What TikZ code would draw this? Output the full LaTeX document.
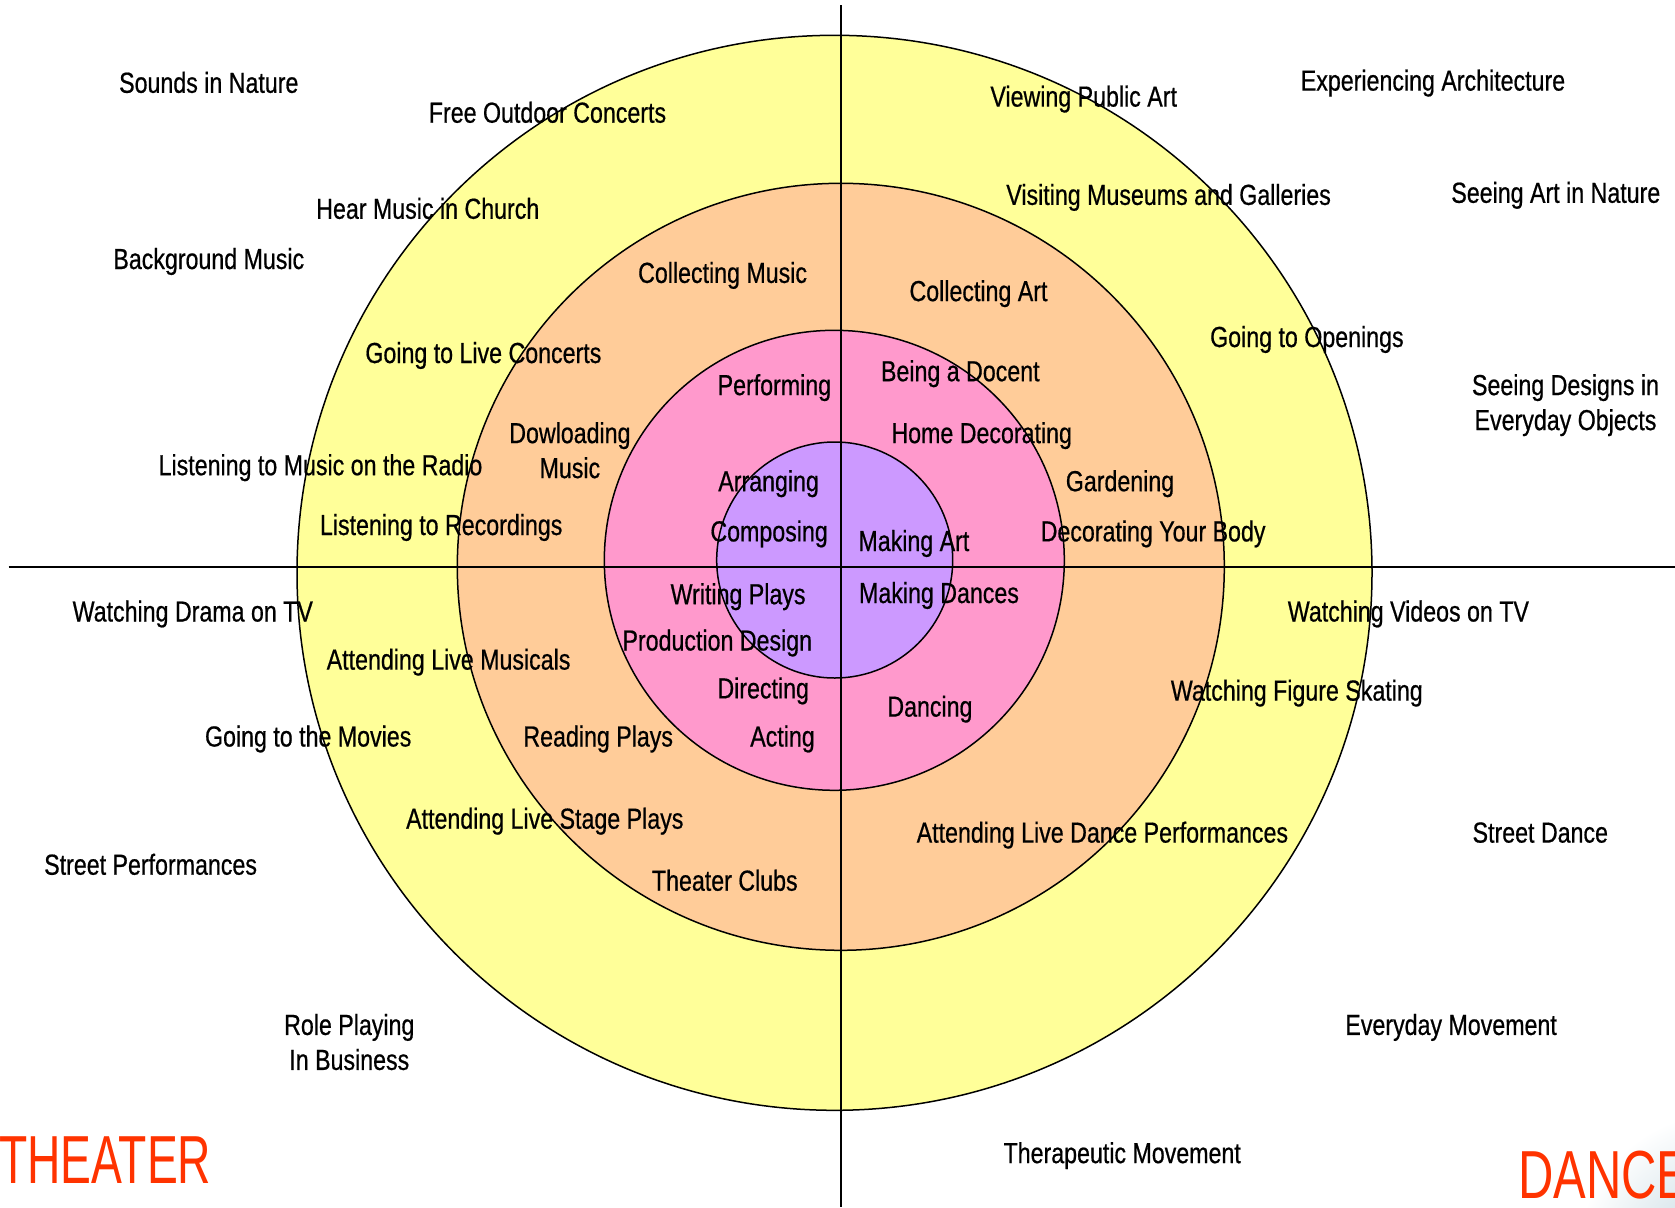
\documentclass[tikz,border=0pt]{standalone}
\usepackage{fontspec}
\setmainfont{Liberation Sans}[FakeStretch=0.8, FakeBold=0.6]
\newfontfamily\theaterfont{Liberation Sans}[FakeStretch=0.68]
\newfontfamily\dancefont{Liberation Sans}[FakeStretch=0.72]
\definecolor{ringyellow}{HTML}{FFFF99}
\definecolor{ringorange}{HTML}{FFCC99}
\definecolor{ringpink}{HTML}{FF99CC}
\definecolor{ringpurple}{HTML}{CC99FF}
\definecolor{titlered}{HTML}{FF3300}
\definecolor{glow}{HTML}{BCD3DD}
\tikzset{
  ring/.style={circle, draw=black, line width=1.5pt, inner sep=0pt, outer sep=0pt},
  axisline/.style={draw=black, line width=2pt},
  lbl/.style={anchor=base, inner sep=0pt, outer sep=0pt, font=\fontsize{29}{35}\selectfont},
  title/.style={anchor=base west, inner sep=0pt, outer sep=0pt, text=titlered}
}
\newcommand{\twolines}[2]{\begin{tabular}[t]{@{}c@{}}#1\\#2\end{tabular}}
\begin{document}
\begin{tikzpicture}[x=1pt,y=-1pt]
\useasboundingbox (0,0) rectangle (1675,1207);
% soft glow in the bottom-right corner
\shade[inner color=glow, outer color=white] (1725,1262) circle (150);
% rings
\node[ring, fill=ringyellow, minimum size=1075pt] (outer) at (834.5,572.8) {};
\node[ring, fill=ringorange, minimum size=767pt] (second) at (840.8,566.8) {};
\node[ring, fill=ringpink, minimum size=460pt] (third) at (834.3,560.3) {};
\node[ring, fill=ringpurple, minimum size=236pt] (core) at (834.7,560) {};
% axes
\coordinate (axL) at (8.5,566.7);
\coordinate (axR) at (1675,566.7);
\coordinate (axT) at (840.7,5.3);
\coordinate (axB) at (840.7,1207);
\draw[axisline] (axL) -- (axR);
\draw[axisline] (axT) -- (axB);
% music quadrant
\node[lbl] (l1) at (208.8,92.8) {Sounds in Nature};
\node[lbl] (l2) at (547.5,122.7) {Free Outdoor Concerts};
\node[lbl] (l3) at (427.8,218.8) {Hear Music in Church};
\node[lbl] (l4) at (208.8,269.0) {Background Music};
\node[lbl] (l5) at (722.6,282.9) {Collecting Music};
\node[lbl] (l6) at (483.4,363.0) {Going to Live Concerts};
\node[lbl] (l7) at (774.4,395.1) {Performing};
\node[lbl] (l8) at (569.9,443.1) {\twolines{Dowloading}{Music}};
\node[lbl] (l9) at (320.5,475.2) {Listening to Music on the Radio};
\node[lbl] (l10) at (768.6,491.2) {Arranging};
\node[lbl] (l11) at (441.2,535.0) {Listening to Recordings};
\node[lbl] (l12) at (769.1,541.4) {Composing};
% art quadrant
\node[lbl] (r1) at (1083.7,106.6) {Viewing Public Art};
\node[lbl] (r2) at (1433.0,90.6) {Experiencing Architecture};
\node[lbl] (r3) at (1168.6,204.9) {Visiting Museums and Galleries};
\node[lbl] (r4) at (1555.8,202.8) {Seeing Art in Nature};
\node[lbl] (r5) at (978.5,301.1) {Collecting Art};
\node[lbl] (r6) at (1306.9,347.0) {Going to Openings};
\node[lbl] (r7) at (960.3,381.2) {Being a Docent};
\node[lbl] (r8) at (1565.5,395.1) {\twolines{Seeing Designs in}{Everyday Objects}};
\node[lbl] (r9) at (981.7,443.1) {Home Decorating};
\node[lbl] (r10) at (1120.0,491.2) {Gardening};
\node[lbl] (r11) at (913.9,551.0) {Making Art};
\node[lbl] (r12) at (1153.1,541.4) {Decorating Your Body};
% theater quadrant
\node[lbl] (t1) at (192.8,621.5) {Watching Drama on TV};
\node[lbl] (t2) at (738.1,604.2) {Writing Plays};
\node[lbl] (t3) at (717.3,650.5) {Production Design};
\node[lbl] (t4) at (448.6,669.6) {Attending Live Musicals};
\node[lbl] (t5) at (763.2,698.4) {Directing};
\node[lbl] (t6) at (308.2,746.5) {Going to the Movies};
\node[lbl] (t7) at (598.2,746.5) {Reading Plays};
\node[lbl] (t8) at (782.5,746.5) {Acting};
\node[lbl] (t9) at (544.8,828.7) {Attending Live Stage Plays};
\node[lbl] (t10) at (150.6,874.7) {Street Performances};
\node[lbl] (t11) at (724.8,890.7) {Theater Clubs};
\node[lbl] (t12) at (349.3,1034.9) {\twolines{Role Playing}{In Business}};
% dance quadrant
\node[lbl] (d1) at (939.0,603.0) {Making Dances};
\node[lbl] (d2) at (1408.4,621.5) {Watching Videos on TV};
\node[lbl] (d3) at (1296.8,700.6) {Watching Figure Skating};
\node[lbl] (d4) at (929.9,716.6) {Dancing};
\node[lbl] (d5) at (1102.4,842.6) {Attending Live Dance Performances};
\node[lbl] (d6) at (1540.3,842.6) {Street Dance};
\node[lbl] (d7) at (1451.1,1034.9) {Everyday Movement};
\node[lbl] (d8) at (1122.2,1163.1) {Therapeutic Movement};
% titles
\node[title, font=\theaterfont\fontsize{68}{80}\selectfont] (theater) at (-1,1183) {THEATER};
\node[title, font=\dancefont\fontsize{68}{80}\selectfont] (dance) at (1518,1198) {DANCE};
\end{tikzpicture}
\end{document}
